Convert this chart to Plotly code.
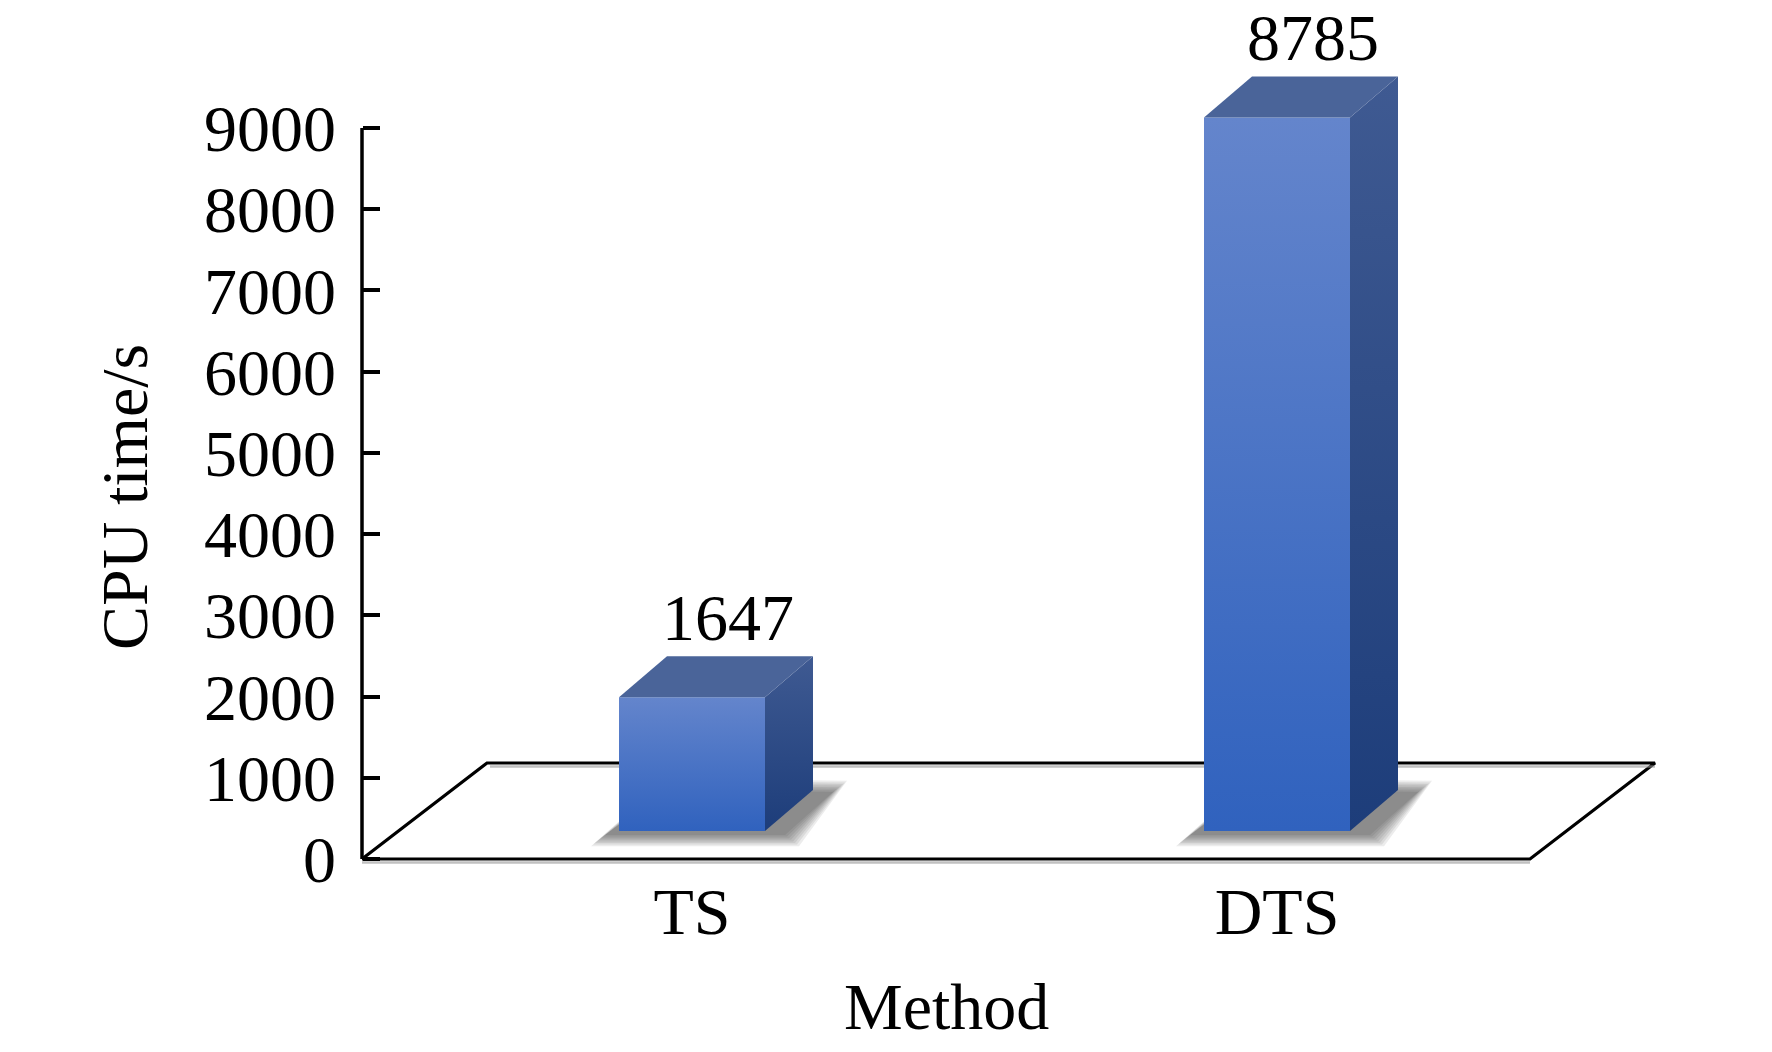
import plotly.graph_objects as go

# ---------------- data ----------------
methods = ["TS", "DTS"]
cpu_time = [1647, 8785]
y_ticks = [0, 1000, 2000, 3000, 4000, 5000, 6000, 7000, 8000, 9000]
y_title = "CPU time/s"
x_title = "Method"

# ---------------- geometry / style ----------------
W, H = 1772, 1052
PX0, PXU = 692.0, 585.0          # pixel of category 0, pixels per category step
PY0, PYU = 859.0, 731.0 / 9000   # pixel of value 0, pixels per value unit
PLOT_LEFT_PX, PLOT_BOTTOM_PX = 330.0, 870.0
AXIS_PX = 362.0

def dxu(px):   # pixel width -> category units
    return px / PXU

def dyu(px):   # pixel height -> value units
    return px / PYU

x_range = [(PLOT_LEFT_PX - PX0) / PXU, (W - PX0) / PXU]
y_range = [-(PLOT_BOTTOM_PX - PY0) / PYU, PY0 / PYU]
x_axis = (AXIS_PX - PX0) / PXU

FONT = "Liberation Serif, Times New Roman, serif"
FS = 66

HALF_W = dxu(73)
DX_PX, DY_PX = 48, 41
DEP_X, DEP_Y = dxu(DX_PX), dyu(DY_PX)
BASE = dyu(28)
FLOOR_R = (1530 - PX0) / PXU
FLOOR_DX, FLOOR_DY = dxu(125), dyu(96)

FRONT_BOT, FRONT_TOP = "#3062be", "#6485cc"
SIDE_BOT, SIDE_TOP = "#1d3d7a", "#3f5a92"
TOP_C = "#4a6499"

fig = go.Figure()

def poly(xs, ys, **kw):
    fig.add_trace(go.Scatter(x=xs + [xs[0]], y=ys + [ys[0]], mode="lines",
                             fill="toself", hoverinfo="skip", showlegend=False, **kw))

# floor
poly([x_axis, FLOOR_R, FLOOR_R + FLOOR_DX, x_axis + FLOOR_DX],
     [0, 0, FLOOR_DY, FLOOR_DY], fillcolor="white", line=dict(color="black", width=3.2))
# soft grey shading under floor edges
for yy, x0, x1 in [(-dyu(3.5), x_axis, FLOOR_R), (FLOOR_DY - dyu(3.5), x_axis + FLOOR_DX + dxu(3), FLOOR_R + FLOOR_DX)]:
    fig.add_trace(go.Scatter(x=[x0, x1], y=[yy, yy], mode="lines",
                             line=dict(color="rgba(150,150,150,0.6)", width=2.5),
                             hoverinfo="skip", showlegend=False))

# bars
for i, v in enumerate(cpu_time):
    xl, xr = i - HALF_W, i + HALF_W
    yb, yt = BASE, BASE + v
    # blurred shadow on the floor (layers from wide/faint to tight/dark)
    for g in [14, 12, 10, 8, 6, 4, 2, 0]:
        gx, gy = dxu(g), dyu(g * 0.8)
        poly([xl - dxu(14) - gx, xr + dxu(20) + gx, xr + DEP_X + dxu(20) + gx, xl + DEP_X],
             [yb - dyu(4) - gy, yb - dyu(4) - gy, yb + DEP_Y - dyu(2) + gy, yb + DEP_Y + gy],
             fillcolor="rgba(30,30,30,0.085)", line=dict(width=0))
    # front face
    poly([xl, xr, xr, xl], [yb, yb, yt, yt], line=dict(width=0),
         fillgradient=dict(type="vertical", colorscale=[[0, FRONT_BOT], [1, FRONT_TOP]]))
    # side face
    poly([xr, xr + DEP_X, xr + DEP_X, xr], [yb, yb + DEP_Y, yt + DEP_Y, yt], line=dict(width=0),
         fillgradient=dict(type="vertical", colorscale=[[0, SIDE_BOT], [1, SIDE_TOP]]))
    # top face
    poly([xl, xr, xr + DEP_X, xl + DEP_X], [yt, yt, yt + DEP_Y, yt + DEP_Y],
         fillcolor=TOP_C, line=dict(width=0))

# value labels
fig.add_trace(go.Scatter(
    x=[i + dxu(36) for i in range(len(methods))],
    y=[BASE + v + DEP_Y for v in cpu_time],
    mode="text", text=[str(v) for v in cpu_time], textposition="top center",
    textfont=dict(family=FONT, size=FS, color="black"),
    cliponaxis=False, hoverinfo="skip", showlegend=False))

# y axis line
fig.add_trace(go.Scatter(x=[x_axis, x_axis], y=[0, y_ticks[-1]], mode="lines",
                         line=dict(color="black", width=3.5), hoverinfo="skip", showlegend=False))

fig.update_layout(
    width=W, height=H, margin=dict(l=0, r=0, t=0, b=0),
    paper_bgcolor="white", plot_bgcolor="rgba(0,0,0,0)",
    font=dict(family=FONT, size=FS, color="black"),
    xaxis=dict(domain=[PLOT_LEFT_PX / W, 1], range=x_range, tickvals=list(range(len(methods))),
               ticktext=methods, showgrid=False, zeroline=False, showline=False, ticks="",
               tickfont=dict(family=FONT, size=FS), ticklabelstandoff=-3, fixedrange=True,
               automargin=False),
    yaxis=dict(domain=[1 - PLOT_BOTTOM_PX / H, 1], range=y_range, anchor="free",
               position=AXIS_PX / W, tickvals=y_ticks, ticks="inside", ticklen=17,
               tickwidth=3.5, tickcolor="black", showline=False, showgrid=False,
               zeroline=False, tickfont=dict(family=FONT, size=FS), ticklabelstandoff=26,
               fixedrange=True, automargin=False),
    annotations=[
        dict(text=y_title, textangle=-90, xref="paper", yref="paper",
             x=125 / W, y=1 - 497 / H, showarrow=False, xanchor="center", yanchor="middle",
             font=dict(family=FONT, size=FS)),
        dict(text=x_title, xref="paper", yref="paper", x=946 / W, y=1 - 1006 / H,
             showarrow=False, xanchor="center", yanchor="middle",
             font=dict(family=FONT, size=FS)),
    ],
)

fig.write_html("out.html", config={"displayModeBar": False},
               post_script="document.body.style.margin='0';document.body.style.overflow='hidden';")
